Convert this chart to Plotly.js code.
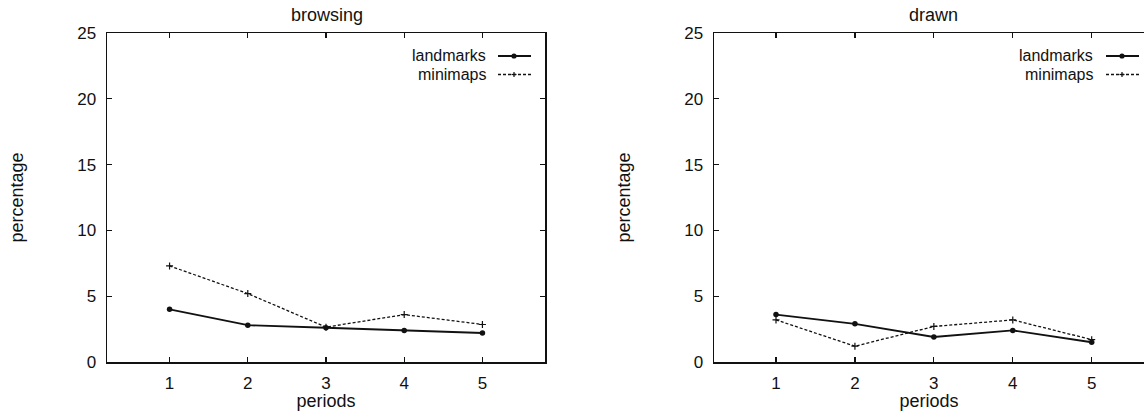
<!DOCTYPE html>
<html>
<head>
<meta charset="utf-8">
<script src="https://cdn.plot.ly/plotly-3.0.1.min.js"></script>
<style>
  html, body { margin: 0; padding: 0; background: #fff; }
  #chart { width: 1144px; height: 411px; }
</style>
</head>
<body>
<div id="chart"></div>
<script>
// Share of time per period, two conditions
const periods = [1, 2, 3, 4, 5];
const seriesNames = ['landmarks', 'minimaps'];

const browsingLandmarks = [4.0, 2.8, 2.6, 2.4, 2.2];
const browsingMinimaps  = [7.3, 5.2, 2.65, 3.6, 2.85];

const drawnLandmarks = [3.6, 2.9, 1.9, 2.4, 1.5];
const drawnMinimaps  = [3.2, 1.2, 2.7, 3.2, 1.7];

const panelTitles = ['browsing', 'drawn'];
const yTicks = [0, 5, 10, 15, 20, 25];

const W = 1144, H = 411;
const FONT = 'Liberation Sans, Arial, Helvetica, sans-serif';
const INK = '#111';
const TICK_SIZE = 17;
const TEXT_SIZE = 18;
const KEY_SIZE = 16;

// pixel -> paper helpers
const px = v => v / W;
const py = v => (H - v) / H;

const solidStyle = {
  mode: 'lines+markers',
  line: { color: INK, width: 1.9 },
  marker: { symbol: 'circle', size: 5.5, color: INK }
};
const dashStyle = {
  mode: 'lines+markers',
  line: { color: INK, width: 1.3, dash: '3px,2px' },
  marker: { symbol: 'cross-thin', size: 5, line: { color: INK, width: 1.2 } }
};

const traces = [
  Object.assign({ x: periods, y: browsingLandmarks, name: seriesNames[0], xaxis: 'x', yaxis: 'y' }, solidStyle),
  Object.assign({ x: periods, y: browsingMinimaps, name: seriesNames[1], xaxis: 'x', yaxis: 'y' }, dashStyle),
  Object.assign({ x: periods, y: drawnLandmarks, name: seriesNames[0], xaxis: 'x2', yaxis: 'y2' }, solidStyle),
  Object.assign({ x: periods, y: drawnMinimaps, name: seriesNames[1], xaxis: 'x2', yaxis: 'y2' }, dashStyle)
];

const yDomain = [py(362), py(33)];

function xAxis(domain, range, anchor) {
  return {
    domain: domain, range: range, anchor: anchor,
    tickvals: periods, ticktext: periods.map(String),
    ticks: 'inside', ticklen: 5, tickwidth: 1.2, tickcolor: INK,
    showline: true, linecolor: INK, linewidth: 1.5, mirror: 'ticks',
    showgrid: false, zeroline: false,
    ticklabelstandoff: 5,
    tickfont: { family: FONT, size: TICK_SIZE, color: INK },
    title: { text: 'periods', standoff: 0, font: { family: FONT, size: TEXT_SIZE, color: INK } },
    automargin: false, fixedrange: true
  };
}
function yAxis(anchor, mirror) {
  return {
    domain: yDomain, range: [0, 25], anchor: anchor,
    tickvals: yTicks,
    ticks: 'inside', ticklen: 5, tickwidth: 1.2, tickcolor: INK,
    showline: true, linecolor: INK, linewidth: 1.5, mirror: mirror,
    showgrid: false, zeroline: false,
    ticklabelstandoff: 6,
    tickfont: { family: FONT, size: TICK_SIZE, color: INK },
    title: { text: 'percentage', standoff: 49, font: { family: FONT, size: TEXT_SIZE, color: INK } },
    automargin: false, fixedrange: true
  };
}

// right panel continues past the page edge, so its range is clipped there
const leftDom = [px(107), px(545)];
const rightDom = [px(714), 1];
const unit2 = (1091.7 - 776) / 4;
const right2 = 1 + (1144 - 776) / unit2;
const left2 = 1 - (776 - 714) / unit2;

// legend keys: text right-aligned, line sample with marker on the right
const annotations = [];
const shapes = [];
function legend(sampleRight, textRight) {
  const rows = [56, 74.5];
  rows.forEach((yy, i) => {
    annotations.push({
      xref: 'paper', yref: 'paper', x: px(textRight), y: py(yy),
      xanchor: 'right', yanchor: 'middle', showarrow: false, borderpad: 0,
      text: seriesNames[i], font: { family: FONT, size: KEY_SIZE, color: INK }
    });
    const x0 = sampleRight - 33, x1 = sampleRight, xm = sampleRight - 17;
    shapes.push({
      type: 'line', xref: 'paper', yref: 'paper',
      x0: px(x0), x1: px(x1), y0: py(yy), y1: py(yy),
      line: { color: INK, width: i === 0 ? 1.9 : 1.3, dash: i === 0 ? 'solid' : '3px,2px' }
    });
    if (i === 0) {
      shapes.push({
        type: 'circle', xref: 'paper', yref: 'paper',
        x0: px(xm - 2.6), x1: px(xm + 2.6), y0: py(yy + 2.6), y1: py(yy - 2.6),
        fillcolor: INK, line: { color: INK, width: 0 }
      });
    } else {
      shapes.push({ type: 'line', xref: 'paper', yref: 'paper',
        x0: px(xm - 2.5), x1: px(xm + 2.5), y0: py(yy), y1: py(yy), line: { color: INK, width: 1.2 } });
      shapes.push({ type: 'line', xref: 'paper', yref: 'paper',
        x0: px(xm), x1: px(xm), y0: py(yy - 2.5), y1: py(yy + 2.5), line: { color: INK, width: 1.2 } });
    }
  });
}
legend(531, 487);
legend(1139, 1094);

annotations.push({
  xref: 'paper', yref: 'paper', x: px(327), y: py(15), xanchor: 'center', yanchor: 'middle',
  showarrow: false, text: panelTitles[0], font: { family: FONT, size: TEXT_SIZE, color: INK }
});
annotations.push({
  xref: 'paper', yref: 'paper', x: px(933), y: py(15), xanchor: 'center', yanchor: 'middle',
  showarrow: false, text: panelTitles[1], font: { family: FONT, size: TEXT_SIZE, color: INK }
});

const layout = {
  width: W, height: H,
  margin: { l: 0, r: 0, t: 0, b: 0, pad: 0 },
  paper_bgcolor: '#fff', plot_bgcolor: '#fff',
  showlegend: false,
  xaxis: xAxis(leftDom, [0.2, 5.8], 'y'),
  yaxis: yAxis('x', 'ticks'),
  xaxis2: xAxis(rightDom, [left2, right2], 'y2'),
  yaxis2: yAxis('x2', false),
  annotations: annotations,
  shapes: shapes
};

Plotly.newPlot('chart', traces, layout, { displayModeBar: false, staticPlot: true });
</script>
</body>
</html>
